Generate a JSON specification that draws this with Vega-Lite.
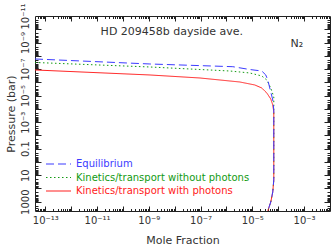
{
  "$schema": "https://vega.github.io/schema/vega-lite/v6.json",
  "width": 295,
  "height": 195,
  "autosize": "none",
  "padding": {"left": 35, "top": 16, "right": 2, "bottom": 39},
  "background": "white",
  "data": {"values": [
    {"s": "Kinetics/transport without photons", "i": 1, "x": 4e-14, "p": 3.19e-8},
    {"s": "Kinetics/transport without photons", "i": 2, "x": 1.10e-9, "p": 6.97e-8},
    {"s": "Kinetics/transport without photons", "i": 3, "x": 1.35e-6, "p": 1.40e-7},
    {"s": "Kinetics/transport without photons", "i": 4, "x": 7.96e-6, "p": 1.97e-7},
    {"s": "Kinetics/transport without photons", "i": 5, "x": 2.31e-5, "p": 3.32e-7},
    {"s": "Kinetics/transport without photons", "i": 6, "x": 3.61e-5, "p": 6.65e-7},
    {"s": "Kinetics/transport without photons", "i": 7, "x": 5.15e-5, "p": 2.67e-6},
    {"s": "Kinetics/transport without photons", "i": 8, "x": 6.73e-5, "p": 1.27e-5},
    {"s": "Kinetics/transport without photons", "i": 9, "x": 6.73e-5, "p": 5.09e-5},
    {"s": "Kinetics/transport without photons", "i": 10, "x": 6.73e-5, "p": 22.9},
    {"s": "Kinetics/transport without photons", "i": 11, "x": 6.15e-5, "p": 183},
    {"s": "Kinetics/transport without photons", "i": 12, "x": 5.15e-5, "p": 1040},
    {"s": "Kinetics/transport without photons", "i": 13, "x": 3.94e-5, "p": 5000},
    {"s": "Kinetics/transport with photons", "i": 1, "x": 4e-14, "p": 1.17e-7},
    {"s": "Kinetics/transport with photons", "i": 2, "x": 1.10e-9, "p": 2.79e-7},
    {"s": "Kinetics/transport with photons", "i": 3, "x": 9.35e-8, "p": 4.70e-7},
    {"s": "Kinetics/transport with photons", "i": 4, "x": 3.27e-6, "p": 9.42e-7},
    {"s": "Kinetics/transport with photons", "i": 5, "x": 1.24e-5, "p": 1.58e-6},
    {"s": "Kinetics/transport with photons", "i": 6, "x": 2.31e-5, "p": 2.67e-6},
    {"s": "Kinetics/transport with photons", "i": 7, "x": 3.61e-5, "p": 6.36e-6},
    {"s": "Kinetics/transport with photons", "i": 8, "x": 5.15e-5, "p": 1.80e-5},
    {"s": "Kinetics/transport with photons", "i": 9, "x": 6.15e-5, "p": 5.09e-5},
    {"s": "Kinetics/transport with photons", "i": 10, "x": 6.73e-5, "p": 1.71e-4},
    {"s": "Kinetics/transport with photons", "i": 11, "x": 6.73e-5, "p": 22.9},
    {"s": "Kinetics/transport with photons", "i": 12, "x": 6.15e-5, "p": 183},
    {"s": "Kinetics/transport with photons", "i": 13, "x": 5.15e-5, "p": 1040},
    {"s": "Kinetics/transport with photons", "i": 14, "x": 3.94e-5, "p": 5000},
    {"s": "Equilibrium", "i": 1, "x": 4e-14, "p": 1.74e-8},
    {"s": "Equilibrium", "i": 2, "x": 1.10e-9, "p": 4.14e-8},
    {"s": "Equilibrium", "i": 3, "x": 1.76e-6, "p": 6.62e-8},
    {"s": "Equilibrium", "i": 4, "x": 7.96e-6, "p": 1.08e-7},
    {"s": "Equilibrium", "i": 5, "x": 2.31e-5, "p": 1.40e-7},
    {"s": "Equilibrium", "i": 6, "x": 3.30e-5, "p": 2.79e-7},
    {"s": "Equilibrium", "i": 7, "x": 3.94e-5, "p": 6.65e-7},
    {"s": "Equilibrium", "i": 8, "x": 4.71e-5, "p": 2.67e-6},
    {"s": "Equilibrium", "i": 9, "x": 6.15e-5, "p": 2.14e-5},
    {"s": "Equilibrium", "i": 10, "x": 6.73e-5, "p": 1.21e-4},
    {"s": "Equilibrium", "i": 11, "x": 6.73e-5, "p": 22.9},
    {"s": "Equilibrium", "i": 12, "x": 6.15e-5, "p": 183},
    {"s": "Equilibrium", "i": 13, "x": 5.15e-5, "p": 1040},
    {"s": "Equilibrium", "i": 14, "x": 3.94e-5, "p": 5000}
  ]},
  "resolve": {"axis": {"x": "independent", "y": "independent"}},
  "layer": [
    {
      "mark": {"type": "line", "strokeWidth": 1, "clip": true},
      "encoding": {
        "x": {"field": "x", "type": "quantitative",
          "scale": {"type": "log", "domain": [4e-14, 0.01], "nice": false},
          "axis": {"orient": "bottom", "values": [1e-13, 1e-11, 1e-9, 1e-7, 1e-5, 1e-3], "ticks": false, "domain": true,
            "labelOverlap": false, "labelFlush": false, "labelPadding": 4, "labelFontSize": 10,
            "labelExpr": "'10' + (datum.value < 5e-13 ? '⁻¹³' : datum.value < 5e-11 ? '⁻¹¹' : datum.value < 5e-9 ? '⁻⁹' : datum.value < 5e-7 ? '⁻⁷' : datum.value < 5e-5 ? '⁻⁵' : '⁻³')",
            "title": "Mole Fraction", "titlePadding": 9}},
        "y": {"field": "p", "type": "quantitative",
          "scale": {"type": "log", "domain": [1e-11, 5000], "reverse": true, "nice": false},
          "axis": {"orient": "left", "values": [1000, 10, 0.1, 1e-3, 1e-5, 1e-7, 1e-9, 1e-11], "ticks": false, "domain": true,
            "labelOverlap": false, "labelFlush": false, "labelPadding": 5, "labelAngle": 270, "labelAlign": "center", "labelBaseline": "bottom", "labelFontSize": 10,
            "labelExpr": "datum.value > 100 ? '1000' : datum.value > 1 ? '10' : datum.value > 0.01 ? '0.1' : datum.value > 1e-4 ? '10⁻³' : datum.value > 1e-6 ? '10⁻⁵' : datum.value > 1e-8 ? '10⁻⁷' : datum.value > 1e-10 ? '10⁻⁹' : '10⁻¹¹'",
            "title": "Pressure (bar)", "titlePadding": 4}},
        "color": {"field": "s", "type": "nominal",
          "scale": {"domain": ["Equilibrium", "Kinetics/transport without photons", "Kinetics/transport with photons"], "range": ["#3c3cff", "#129a12", "#ff2020"]},
          "legend": {"title": null, "orient": "none", "legendX": 10, "legendY": 142, "symbolType": "stroke", "symbolSize": 625, "symbolStrokeWidth": 1.2,
            "clipHeight": 12, "rowPadding": 1.5, "labelFontSize": 10, "labelFont": "DejaVu Sans", "labelOffset": 4, "labelLimit": 300, "padding": 0,
            "labelColor": {"expr": "datum.value == 'Equilibrium' ? '#3c3cff' : datum.value == 'Kinetics/transport without photons' ? '#129a12' : '#ff2020'"}}},
        "strokeDash": {"field": "s", "type": "nominal",
          "scale": {"domain": ["Equilibrium", "Kinetics/transport without photons", "Kinetics/transport with photons"], "range": [[8, 4], [1.5, 2.5], [1, 0]]},
          "legend": {"title": null, "orient": "none", "legendX": 10, "legendY": 142, "symbolType": "stroke", "symbolSize": 625, "symbolStrokeWidth": 1.2,
            "clipHeight": 12, "rowPadding": 1.5, "labelFontSize": 10, "labelFont": "DejaVu Sans", "labelOffset": 4, "labelLimit": 300, "padding": 0,
            "labelColor": {"expr": "datum.value == 'Equilibrium' ? '#3c3cff' : datum.value == 'Kinetics/transport without photons' ? '#129a12' : '#ff2020'"}}},
        "order": {"field": "i", "type": "quantitative"}
      }
    },
    {
      "mark": {"type": "point", "opacity": 0, "size": 0},
      "encoding": {
        "x": {"field": "x", "type": "quantitative", "scale": {"type": "log", "domain": [4e-14, 0.01], "nice": false},
          "axis": {"orient": "bottom", "values": [1e-13, 1e-12, 1e-11, 1e-10, 1e-9, 1e-8, 1e-7, 1e-6, 1e-5, 1e-4, 1e-3], "tickSize": -5, "labels": false, "domain": false, "title": null}},
        "y": {"field": "p", "type": "quantitative", "scale": {"type": "log", "domain": [1e-11, 5000], "reverse": true, "nice": false},
          "axis": {"orient": "left", "values": [1e-10, 1e-9, 1e-8, 1e-7, 1e-6, 1e-5, 1e-4, 1e-3, 1e-2, 0.1, 1, 10, 100, 1000], "tickSize": -6, "labels": false, "domain": false, "title": null}}
      }
    },
    {
      "mark": {"type": "point", "opacity": 0, "size": 0},
      "encoding": {
        "x": {"field": "x", "type": "quantitative", "scale": {"type": "log", "domain": [4e-14, 0.01], "nice": false},
          "axis": {"orient": "bottom", "tickSize": -2.5, "labels": false, "domain": false, "title": null,
            "values": [5e-14,6e-14,7e-14,8e-14,9e-14,2e-13,3e-13,4e-13,5e-13,6e-13,7e-13,8e-13,9e-13,2e-12,3e-12,4e-12,5e-12,6e-12,7e-12,8e-12,9e-12,2e-11,3e-11,4e-11,5e-11,6e-11,7e-11,8e-11,9e-11,2e-10,3e-10,4e-10,5e-10,6e-10,7e-10,8e-10,9e-10,2e-9,3e-9,4e-9,5e-9,6e-9,7e-9,8e-9,9e-9,2e-8,3e-8,4e-8,5e-8,6e-8,7e-8,8e-8,9e-8,2e-7,3e-7,4e-7,5e-7,6e-7,7e-7,8e-7,9e-7,2e-6,3e-6,4e-6,5e-6,6e-6,7e-6,8e-6,9e-6,2e-5,3e-5,4e-5,5e-5,6e-5,7e-5,8e-5,9e-5,2e-4,3e-4,4e-4,5e-4,6e-4,7e-4,8e-4,9e-4,2e-3,3e-3,4e-3,5e-3,6e-3,7e-3,8e-3,9e-3]}},
        "y": {"field": "p", "type": "quantitative", "scale": {"type": "log", "domain": [1e-11, 5000], "reverse": true, "nice": false},
          "axis": {"orient": "left", "tickSize": -3, "labels": false, "domain": false, "title": null,
            "values": [2e-11,3e-11,4e-11,5e-11,6e-11,7e-11,8e-11,9e-11,2e-10,3e-10,4e-10,5e-10,6e-10,7e-10,8e-10,9e-10,2e-9,3e-9,4e-9,5e-9,6e-9,7e-9,8e-9,9e-9,2e-8,3e-8,4e-8,5e-8,6e-8,7e-8,8e-8,9e-8,2e-7,3e-7,4e-7,5e-7,6e-7,7e-7,8e-7,9e-7,2e-6,3e-6,4e-6,5e-6,6e-6,7e-6,8e-6,9e-6,2e-5,3e-5,4e-5,5e-5,6e-5,7e-5,8e-5,9e-5,2e-4,3e-4,4e-4,5e-4,6e-4,7e-4,8e-4,9e-4,2e-3,3e-3,4e-3,5e-3,6e-3,7e-3,8e-3,9e-3,0.02,0.03,0.04,0.05,0.06,0.07,0.08,0.09,0.2,0.3,0.4,0.5,0.6,0.7,0.8,0.9,2,3,4,5,6,7,8,9,20,30,40,50,60,70,80,90,200,300,400,500,600,700,800,900,2000,3000,4000]}}
      }
    },
    {
      "mark": {"type": "point", "opacity": 0, "size": 0},
      "encoding": {
        "x": {"field": "x", "type": "quantitative", "scale": {"type": "log", "domain": [4e-14, 0.01], "nice": false},
          "axis": {"orient": "top", "values": [1e-13, 1e-12, 1e-11, 1e-10, 1e-9, 1e-8, 1e-7, 1e-6, 1e-5, 1e-4, 1e-3], "tickSize": -5, "labels": false, "domain": true, "title": null}},
        "y": {"field": "p", "type": "quantitative", "scale": {"type": "log", "domain": [1e-11, 5000], "reverse": true, "nice": false},
          "axis": {"orient": "right", "values": [1e-10, 1e-9, 1e-8, 1e-7, 1e-6, 1e-5, 1e-4, 1e-3, 1e-2, 0.1, 1, 10, 100, 1000], "tickSize": -6, "labels": false, "domain": true, "title": null}}
      }
    },
    {
      "mark": {"type": "point", "opacity": 0, "size": 0},
      "encoding": {
        "x": {"field": "x", "type": "quantitative", "scale": {"type": "log", "domain": [4e-14, 0.01], "nice": false},
          "axis": {"orient": "top", "tickSize": -2.5, "labels": false, "domain": false, "title": null,
            "values": [5e-14,6e-14,7e-14,8e-14,9e-14,2e-13,3e-13,4e-13,5e-13,6e-13,7e-13,8e-13,9e-13,2e-12,3e-12,4e-12,5e-12,6e-12,7e-12,8e-12,9e-12,2e-11,3e-11,4e-11,5e-11,6e-11,7e-11,8e-11,9e-11,2e-10,3e-10,4e-10,5e-10,6e-10,7e-10,8e-10,9e-10,2e-9,3e-9,4e-9,5e-9,6e-9,7e-9,8e-9,9e-9,2e-8,3e-8,4e-8,5e-8,6e-8,7e-8,8e-8,9e-8,2e-7,3e-7,4e-7,5e-7,6e-7,7e-7,8e-7,9e-7,2e-6,3e-6,4e-6,5e-6,6e-6,7e-6,8e-6,9e-6,2e-5,3e-5,4e-5,5e-5,6e-5,7e-5,8e-5,9e-5,2e-4,3e-4,4e-4,5e-4,6e-4,7e-4,8e-4,9e-4,2e-3,3e-3,4e-3,5e-3,6e-3,7e-3,8e-3,9e-3]}},
        "y": {"field": "p", "type": "quantitative", "scale": {"type": "log", "domain": [1e-11, 5000], "reverse": true, "nice": false},
          "axis": {"orient": "right", "tickSize": -3, "labels": false, "domain": false, "title": null,
            "values": [2e-11,3e-11,4e-11,5e-11,6e-11,7e-11,8e-11,9e-11,2e-10,3e-10,4e-10,5e-10,6e-10,7e-10,8e-10,9e-10,2e-9,3e-9,4e-9,5e-9,6e-9,7e-9,8e-9,9e-9,2e-8,3e-8,4e-8,5e-8,6e-8,7e-8,8e-8,9e-8,2e-7,3e-7,4e-7,5e-7,6e-7,7e-7,8e-7,9e-7,2e-6,3e-6,4e-6,5e-6,6e-6,7e-6,8e-6,9e-6,2e-5,3e-5,4e-5,5e-5,6e-5,7e-5,8e-5,9e-5,2e-4,3e-4,4e-4,5e-4,6e-4,7e-4,8e-4,9e-4,2e-3,3e-3,4e-3,5e-3,6e-3,7e-3,8e-3,9e-3,0.02,0.03,0.04,0.05,0.06,0.07,0.08,0.09,0.2,0.3,0.4,0.5,0.6,0.7,0.8,0.9,2,3,4,5,6,7,8,9,20,30,40,50,60,70,80,90,200,300,400,500,600,700,800,900,2000,3000,4000]}}
      }
    },
    {
      "data": {"values": [
        {"label": "HD 209458b dayside ave.", "x": 7.76e-9, "y": 1.61e-10},
        {"label": "N₂", "x": 5.2e-4, "y": 1.29e-9}
      ]},
      "mark": {"type": "text", "font": "DejaVu Sans", "fontSize": 11, "color": "#333", "align": "center", "baseline": "middle"},
      "encoding": {
        "x": {"field": "x", "type": "quantitative", "scale": {"type": "log", "domain": [4e-14, 0.01], "nice": false}, "axis": null},
        "y": {"field": "y", "type": "quantitative", "scale": {"type": "log", "domain": [1e-11, 5000], "reverse": true, "nice": false}, "axis": null},
        "text": {"field": "label", "type": "nominal"}
      }
    }
  ],
  "config": {
    "view": {"stroke": null},
    "axis": {"grid": false, "labelFont": "DejaVu Sans", "titleFont": "DejaVu Sans", "labelFontSize": 10, "titleFontSize": 11, "titleFontWeight": "normal",
      "labelColor": "#333", "titleColor": "#333", "domainColor": "#222", "tickColor": "#222", "domainWidth": 1, "tickWidth": 1}
  }
}
